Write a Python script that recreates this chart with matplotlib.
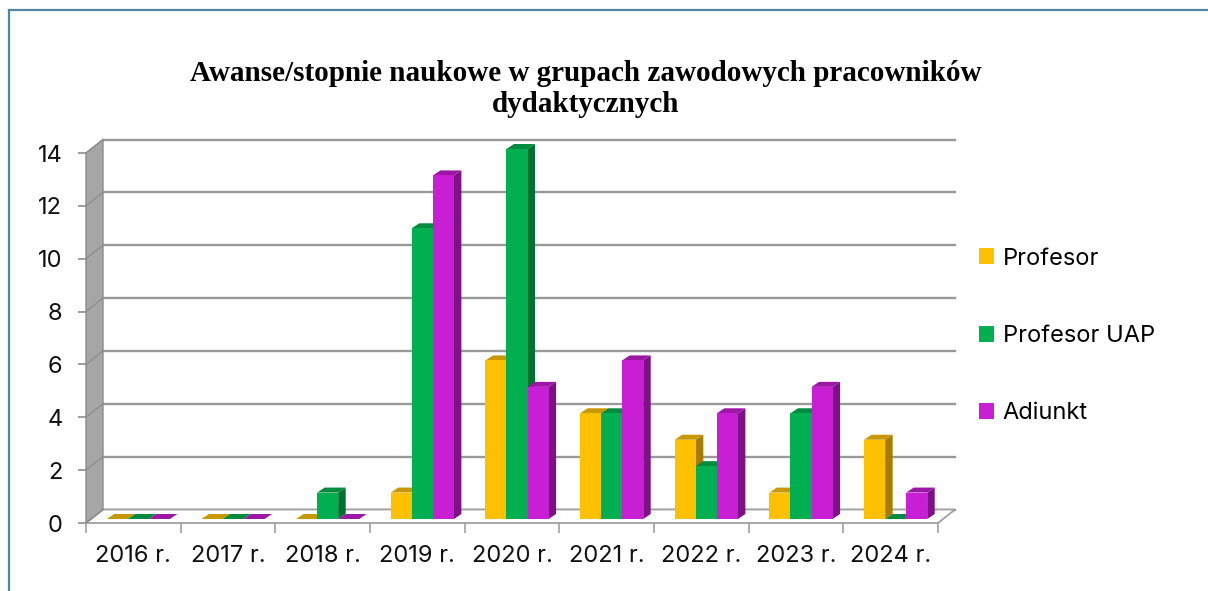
import numpy as np
import matplotlib
matplotlib.use("Agg")
import matplotlib.pyplot as plt
from matplotlib.patches import Polygon, Patch
from matplotlib.lines import Line2D

# ---- data ----
years = ["2016 r.", "2017 r.", "2018 r.", "2019 r.", "2020 r.", "2021 r.", "2022 r.", "2023 r.", "2024 r."]
series_names = ["Profesor", "Profesor UAP", "Adiunkt"]
profesor = [0, 0, 0, 1, 6, 4, 3, 1, 3]
profesor_uap = [0, 0, 1, 11, 14, 4, 2, 4, 0]
adiunkt = [0, 0, 0, 13, 5, 6, 4, 5, 1]
yticks = [0, 2, 4, 6, 8, 10, 12, 14]
title = "Awanse/stopnie naukowe w grupach zawodowych pracowników\ndydaktycznych"

# front / top / side colours per series
front_c = ["#FFC000", "#00B050", "#C81ED4"]
top_c = ["#C99700", "#008B3E", "#9C17A6"]
side_c = ["#A67D00", "#00712F", "#7E1186"]

plt.rcParams["font.family"] = ["Inter", "DejaVu Sans"]
W, H, DPI = 1208, 591, 100
fig = plt.figure(figsize=(W / DPI, H / DPI), dpi=DPI)

# axes = front plane of the 3D box (pixel layout)
left_px, right_px, bot_px, top_px = 86, 938, 523, 153
ax = fig.add_axes([left_px / W, (H - bot_px) / H, (right_px - left_px) / W, (bot_px - top_px) / H])
n = len(years)
ax.set_xlim(-0.5, n - 0.5)
ax.set_ylim(0, 14)
for s in ax.spines.values():
    s.set_visible(False)
ax.patch.set_visible(False)

ux = (right_px - left_px) / n      # px per category
uy = (bot_px - top_px) / 14.0      # px per unit


def d(px_x, px_y):
    return px_x / ux, px_y / uy


DX, DY = d(17, 13.5)   # depth of the box (back wall offset)
BX, BY = d(5, 4)       # bar front face offset from front plane
BDX, BDY = d(7.5, 5)   # bar depth

grid_c = "#999999"
x0, x1 = -0.5, n - 0.5

# floor
ax.add_patch(Polygon([(x0, 0), (x1, 0), (x1 + DX, DY), (x0 + DX, DY)], closed=True,
                     fc="white", ec="#A0A0A0", lw=1.3, zorder=1, clip_on=False))
# side wall
ax.add_patch(Polygon([(x0, 0), (x0, 14), (x0 + DX, 14 + DY), (x0 + DX, DY)], closed=True,
                     fc="#A6A6A6", ec="#8C8C8C", lw=1.0, zorder=1, clip_on=False))
# gridlines on back wall and across side wall
for v in yticks:
    ax.plot([x0 + DX, x1 + DX], [v + DY, v + DY], color=grid_c, lw=1.7, zorder=0.5, clip_on=False)
    ax.plot([x0, x0 + DX], [v, v + DY], color="#8C8C8C", lw=0.9, zorder=1.5, clip_on=False)

# bars
w = 1 / 4.5
values = [profesor, profesor_uap, adiunkt]
z = 2
for i in range(n):
    for j, vals in enumerate(values):
        v = vals[i]
        xl = i - 1.5 * w + j * w + BX
        xr = xl + w
        b = BY
        t = BY + v
        ax.add_patch(Polygon([(xr, b), (xr, t), (xr + BDX, t + BDY), (xr + BDX, b + BDY)],
                             closed=True, fc=side_c[j], ec="none", zorder=z, clip_on=False))
        ax.add_patch(Polygon([(xl, t), (xr, t), (xr + BDX, t + BDY), (xl + BDX, t + BDY)],
                             closed=True, fc=top_c[j], ec="none", zorder=z, clip_on=False))
        if v > 0:
            ax.bar(xl, v, width=w, bottom=b, align="edge", color=front_c[j], zorder=z + 0.1, clip_on=False)
        z += 0.2

# ticks
ax.set_yticks(yticks)
ax.tick_params(axis="y", direction="out", length=6, width=1.2, color="#8C8C8C", pad=11,
               labelsize=17, labelcolor="#111111")
ax.set_xticks(np.arange(-0.5, n, 1))
ax.set_xticklabels([])
ax.set_xticks(np.arange(n), minor=True)
ax.set_xticklabels(years, minor=True)
ax.tick_params(axis="x", which="major", direction="out", length=7.5, width=1.2, color="#A0A0A0")
ax.tick_params(axis="x", which="minor", length=0, pad=16, labelsize=17, labelcolor="#111111")

# title
fig.text(586 / W, 1 - 89 / H, title, ha="center", va="center", fontsize=21, fontweight="bold",
         family="Liberation Serif", linespacing=1.2)

# legend
handles = [Patch(fc=c, ec="none") for c in front_c]
fig.legend(handles=handles, labels=series_names, loc="center left",
           bbox_to_anchor=(979 / W, 1 - 336 / H), frameon=False, fontsize=17,
           handlelength=0.65, handleheight=0.65, handletextpad=0.35, labelspacing=2.35,
           borderpad=0, borderaxespad=0)

# outer frame (only top and left visible)
fig.add_artist(Line2D([8.5 / W, 1], [1 - 9.5 / H, 1 - 9.5 / H], transform=fig.transFigure,
                      color="#4E86A3", lw=1.6))
fig.add_artist(Line2D([8.5 / W, 8.5 / W], [0, 1 - 9.5 / H], transform=fig.transFigure,
                      color="#4E86A3", lw=1.6))

fig.savefig("out.png", dpi=DPI)
